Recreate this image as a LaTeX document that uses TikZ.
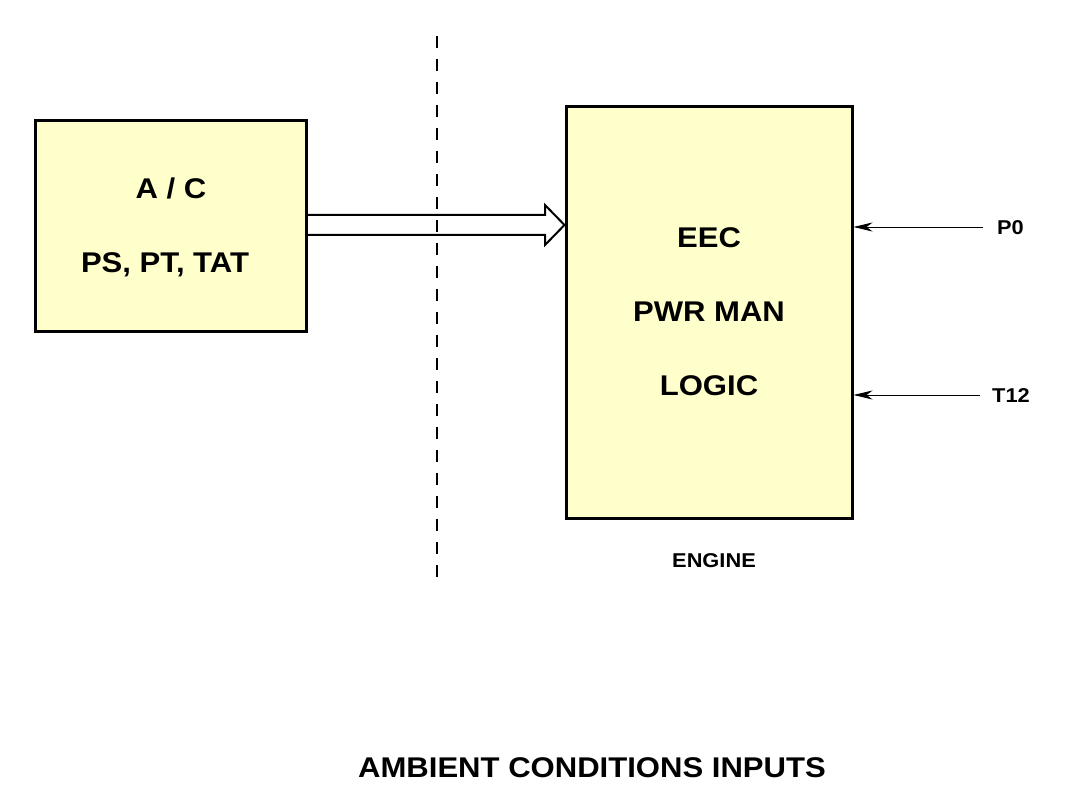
\documentclass[tikz,border=0pt]{standalone}
\usepackage{fontspec}
\setmainfont[FakeStretch=1.09]{Liberation Sans}
\usetikzlibrary{arrows.meta}
\definecolor{boxfill}{RGB}{255,255,204}
\begin{document}
\begin{tikzpicture}[x=1pt,y=-1pt,
  blk/.style={draw=black, line width=3pt, fill=boxfill, inner sep=0pt},
  lbl/.style={font=\bfseries\fontsize{28.5}{34}\selectfont, inner sep=0pt},
  sml/.style={font=\bfseries\fontsize{20}{24}\selectfont, inner sep=0pt},
  thin arrow/.style={line width=0.9pt, -{Stealth[length=19pt,width=9pt,inset=6pt]}},
  dbl/.style={line width=2pt, line join=miter}]
\useasboundingbox (0,0) rectangle (1080,794);
\node[blk, minimum width=271pt, minimum height=211pt] (ac) at (170.5,226.5) {};
\node[blk, minimum width=286pt, minimum height=411pt] (eec) at (709,312.5) {};
\node[lbl] (t1) at (171,188) {A / C};
\node[lbl] (t2) at (165,265) {PS, PT, TAT};
\node[lbl] (t3) at (709,238) {EEC};
\node[lbl] (t4) at (709,312) {PWR MAN};
\node[lbl] (t5) at (709,386) {LOGIC};
\node[sml] (eng) at (714,561) {ENGINE};
\node[lbl] (title) at (592,768) {AMBIENT CONDITIONS INPUTS};
\node[sml, anchor=west] (p0) at (997,228) {P0};
\node[sml, anchor=west] (t12) at (992,396) {T12};
\coordinate (d1) at (437,36);
\coordinate (d2) at (437,578);
\draw[line width=1.2pt, dash pattern=on 12pt off 11pt] (d1) -- (d2);
\draw[dbl] (ac.east |- 0,215) -- (545,215) -- (545,205) -- (eec.west |- 0,225) -- (545,245) -- (545,235) -- (ac.east |- 0,235);
\draw[thin arrow] (983,227) -- (eec.east |- 0,227);
\draw[thin arrow] (980,395) -- (eec.east |- 0,395);
\end{tikzpicture}
\end{document}
